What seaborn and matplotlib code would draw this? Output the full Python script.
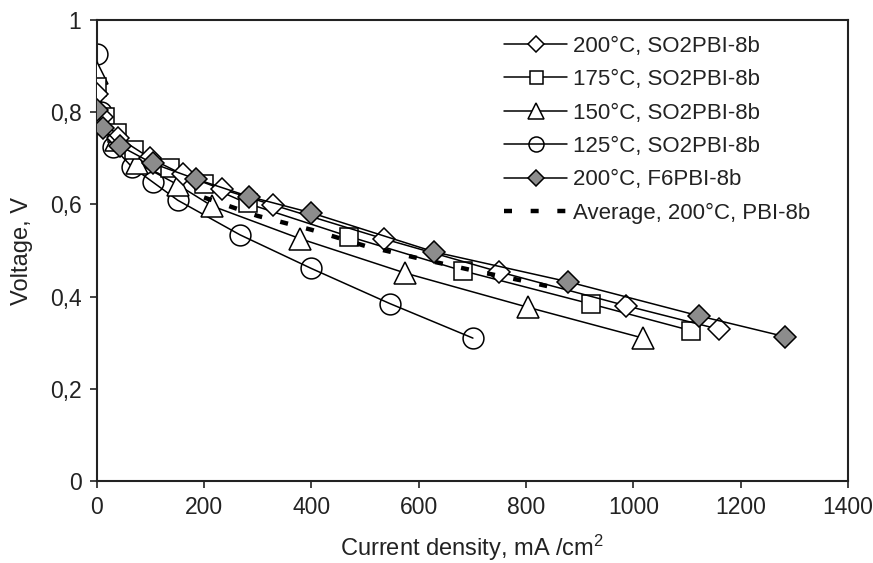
import matplotlib
matplotlib.use("Agg")
import matplotlib.pyplot as plt
import seaborn as sns
import numpy as np

sns.set_theme(style="ticks")
plt.rcParams['font.family'] = ['Liberation Sans', 'DejaVu Sans']
plt.rcParams['mathtext.fontset'] = 'custom'
plt.rcParams['mathtext.rm'] = 'Liberation Sans'
plt.rcParams['mathtext.it'] = 'Liberation Sans'

# ---- data ----
x_200_so2 = [0, 10, 40, 100, 160, 233, 328, 536, 749, 987, 1160]
y_200_so2 = [0.840, 0.790, 0.745, 0.700, 0.665, 0.633, 0.599, 0.525, 0.454, 0.380, 0.329]

x_175_so2 = [0, 15, 37, 70, 137, 199, 281, 471, 682, 921, 1108]
y_175_so2 = [0.855, 0.790, 0.755, 0.718, 0.678, 0.644, 0.602, 0.530, 0.456, 0.384, 0.326]

x_150_so2 = [0, 12, 35, 75, 152, 214, 378, 575, 803, 1018]
y_150_so2 = [0.885, 0.780, 0.740, 0.690, 0.642, 0.597, 0.526, 0.451, 0.377, 0.310]

x_125_so2 = [0, 8, 30, 65, 105, 151, 267, 400, 546, 701]
y_125_so2 = [0.927, 0.800, 0.725, 0.682, 0.648, 0.609, 0.534, 0.461, 0.385, 0.310]

x_200_f6 = [0, 12, 43, 104, 185, 284, 399, 629, 879, 1123, 1283]
y_200_f6 = [0.805, 0.765, 0.727, 0.689, 0.655, 0.617, 0.582, 0.497, 0.432, 0.358, 0.313]

x_avg = [200, 300, 400, 500, 600, 700, 800, 870]
y_avg = [0.615, 0.575, 0.545, 0.510, 0.483, 0.457, 0.433, 0.415]

labels = ["200°C, SO2PBI-8b", "175°C, SO2PBI-8b", "150°C, SO2PBI-8b",
          "125°C, SO2PBI-8b", "200°C, F6PBI-8b", "Average, 200°C, PBI-8b"]

x_ticks = [0, 200, 400, 600, 800, 1000, 1200, 1400]
y_ticks = [0, 0.2, 0.4, 0.6, 0.8, 1.0]
y_ticklabels = ["0", "0,2", "0,4", "0,6", "0,8", "1"]

fig = plt.figure(figsize=(8.73, 5.63), dpi=100)
ax = fig.add_axes([0.1108, 0.1456, 0.9714 - 0.1108, 0.9645 - 0.1456])

common = dict(color='black', linewidth=1.1, markeredgecolor='black',
              markeredgewidth=1.1, ax=ax, sort=False, estimator=None)

sns.lineplot(x=x_125_so2, y=y_125_so2, marker='o', markersize=15,
             markerfacecolor='none', label=labels[3], zorder=2, **common)
sns.lineplot(x=x_150_so2, y=y_150_so2, marker='^', markersize=16,
             markerfacecolor='white', label=labels[2], zorder=3, **common)
sns.lineplot(x=x_175_so2, y=y_175_so2, marker='s', markersize=13,
             markerfacecolor='white', label=labels[1], zorder=4, **common)
sns.lineplot(x=x_200_so2, y=y_200_so2, marker='D', markersize=11,
             markerfacecolor='white', label=labels[0], zorder=5, **common)
sns.lineplot(x=x_avg, y=y_avg, color='black', linewidth=3.2,
             linestyle=(0, (1.8, 4.2)), label=labels[5], zorder=6, ax=ax,
             sort=False, estimator=None)
sns.lineplot(x=x_200_f6, y=y_200_f6, marker='D', markersize=11,
             markerfacecolor='#8c8c8c', label=labels[4], zorder=7, **common)

ax.set_xlim(0, 1400)
ax.set_ylim(0, 1)
ax.set_xticks(x_ticks)
ax.set_xticklabels([str(v) for v in x_ticks])
ax.set_yticks(y_ticks)
ax.set_yticklabels(y_ticklabels)
ax.tick_params(axis='both', labelsize=16.5, direction='out', length=5,
               width=1.2, color='#222222', labelcolor='#222222', pad=6)
for s in ax.spines.values():
    s.set_visible(True)
    s.set_linewidth(1.5)
    s.set_color('#222222')

ax.set_xlabel("Current density, mA /cm$^{2}$", fontsize=17, color='#222222', labelpad=10)
ax.set_ylabel("Voltage, V", fontsize=17, color='#222222', labelpad=12)

handles, labs = ax.get_legend_handles_labels()
order = [labels.index(l) for l in labs]
hl = sorted(zip(order, handles, labs))
leg = ax.legend([h for _, h, _ in hl], [l for _, _, l in hl],
                loc='upper left', bbox_to_anchor=(0.525, 0.995),
                frameon=False, fontsize=16, handlelength=2.8,
                handletextpad=0.3, labelspacing=0.56, markerscale=0.72,
                borderaxespad=0.2)
for t in leg.get_texts():
    t.set_color('#222222')

fig.savefig("out.png", dpi=100)
